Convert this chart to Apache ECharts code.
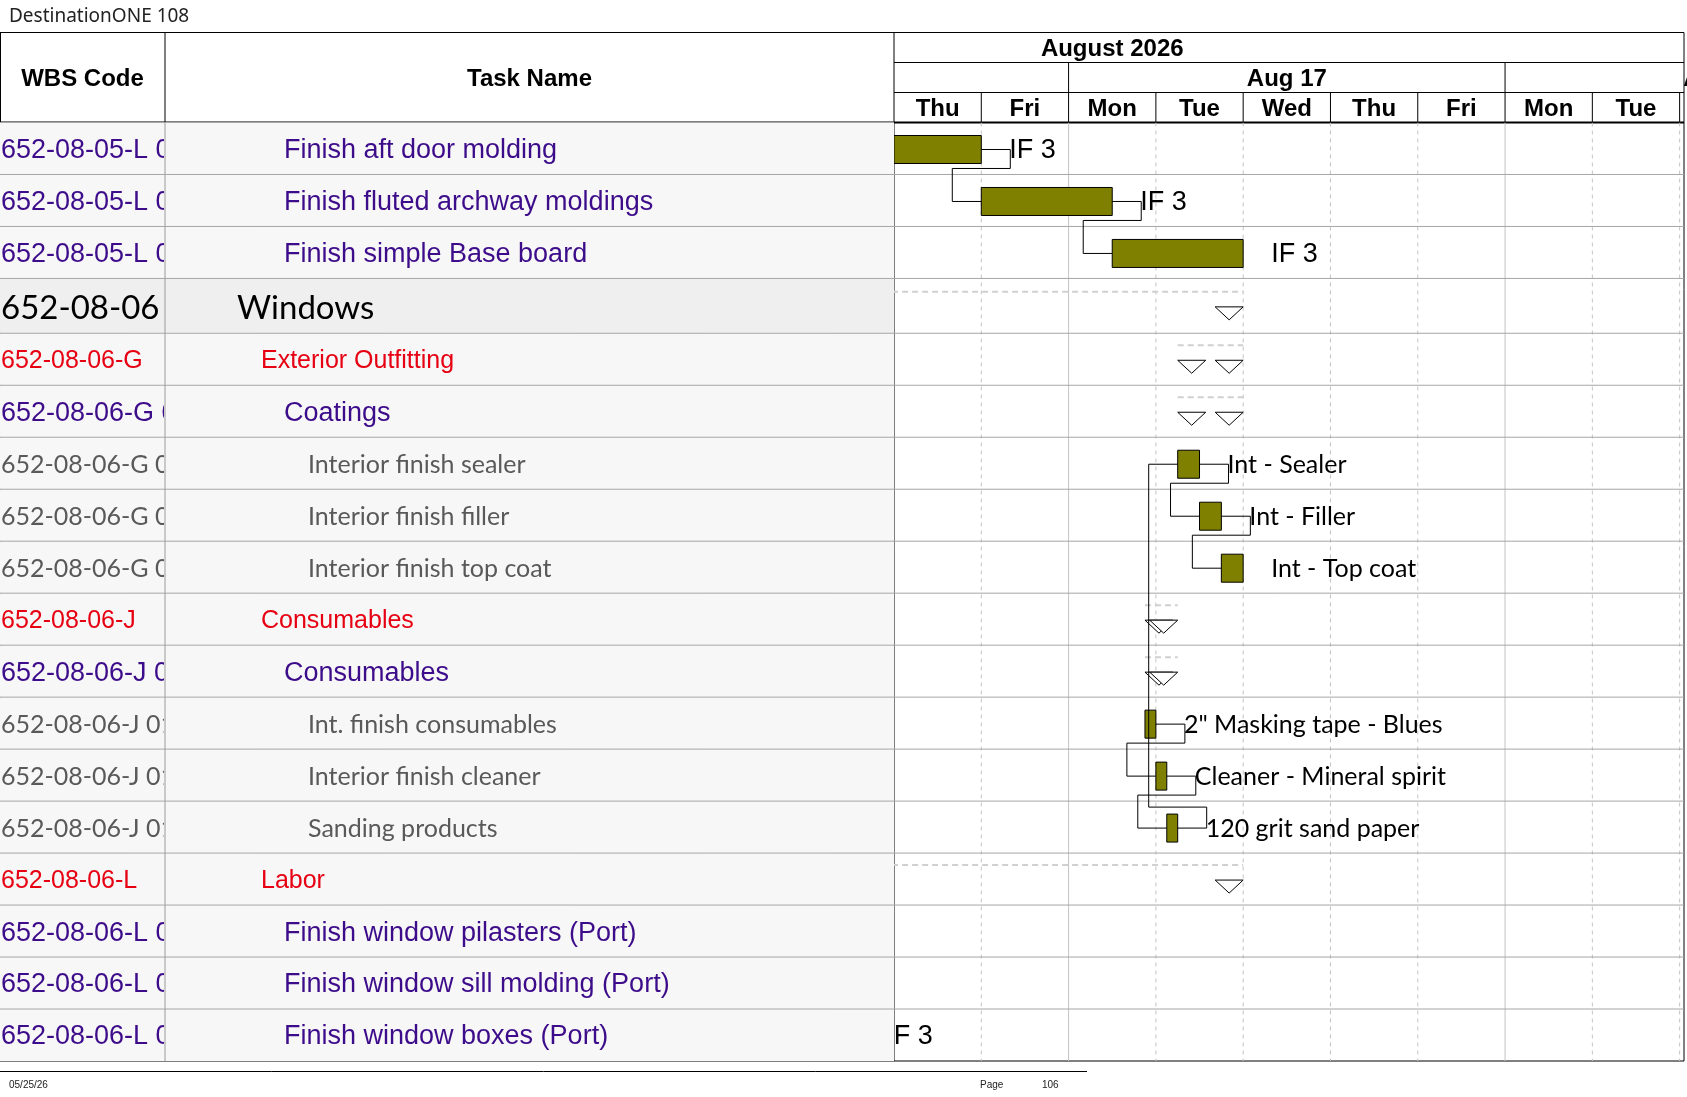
<!DOCTYPE html>
<html>
<head>
<meta charset="utf-8">
<title>DestinationONE 108</title>
<script src="https://cdn.jsdelivr.net/npm/echarts@6/dist/echarts.min.js"></script>
<style>
html, body { margin: 0; padding: 0; background: #fff; }
#chart { width: 1687px; height: 1097px; }
</style>
</head>
<body>
<div id="chart"></div>
<script>
// ---- table data ----
var columnTitles = ["WBS Code", "Task Name"];
var wbsCodes = [
    "652-08-05-L 01", "652-08-05-L 02", "652-08-05-L 03",
    "652-08-06",
    "652-08-06-G", "652-08-06-G 01", "652-08-06-G 01.01", "652-08-06-G 01.02", "652-08-06-G 01.03",
    "652-08-06-J", "652-08-06-J 01", "652-08-06-J 01.01", "652-08-06-J 01.02", "652-08-06-J 01.03",
    "652-08-06-L", "652-08-06-L 01", "652-08-06-L 02", "652-08-06-L 03"
];
var taskNames = [
    "Finish aft door molding", "Finish fluted archway moldings", "Finish simple Base board",
    "Windows",
    "Exterior Outfitting", "Coatings", "Interior finish sealer", "Interior finish filler", "Interior finish top coat",
    "Consumables", "Consumables", "Int. finish consumables", "Interior finish cleaner", "Sanding products",
    "Labor", "Finish window pilasters (Port)", "Finish window sill molding (Port)", "Finish window boxes (Port)"
];
var outlineLevels = [3, 3, 3, 1, 2, 3, 4, 4, 4, 2, 3, 4, 4, 4, 2, 3, 3, 3];

// ---- schedule, in working days from Thu Aug 13 ----
var taskStart  = [0, 1, 2.5, -3, 3.25, 3.25, 3.25, 3.5, 3.75, 2.875, 2.875, 2.875, 3.0, 3.125, -3, null, null, -1.5];
var taskFinish = [1, 2.5, 4, 4, 4, 4, 3.5, 3.75, 4, 3.25, 3.25, 3.0, 3.125, 3.25, 4, null, null, -0.41];
var isSummary  = [false, false, false, true, true, true, false, false, false, true, true, false, false, false, true, false, false, false];
var barLabels = [
    "IF 3", "IF 3", "IF 3", "", "", "",
    "Int - Sealer", "Int - Filler", "Int - Top coat", "", "",
    "2\" Masking tape - Blues", "Cleaner - Mineral spirit", "120 grit sand paper",
    "", "", "", "IF 3"
];
var predecessors = [null, 0, 1, null, null, null, 13, 6, 7, null, null, null, 11, 12, null, null, null, null];

// ---- timescale ----
var monthName = "August 2026";
var weekNames = ["Aug 10", "Aug 17", "Aug 24"];
var weekStarts = [-3, 2, 7];
var dayNames = ["Thu", "Fri", "Mon", "Tue", "Wed", "Thu", "Fri", "Mon", "Tue", "Wed"];

// ---- layout ----
var L = {
    top: 32.5, headH: 90, bodyTop: 122.5, bodyH: 938.5,
    tableW: 894, wbsW: 165, ganttW: 790, daysShown: 9.05, monthAt: 2.5,
    textDy: 2
};
var levelStyle = {
    1: { family: "Lato", size: 33, color: "#000000", indent: 237, bg: "#efefef", rowUnits: 1.055 },
    2: { family: "Liberation Sans", size: 25, color: "#e60012", indent: 261, bg: "#f7f7f7", rowUnits: 1 },
    3: { family: "Liberation Sans", size: 27, color: "#3d0c8a", indent: 284, bg: "#f7f7f7", rowUnits: 1 },
    4: { family: "Lato", size: 25, color: "#595959", indent: 308, bg: "#f7f7f7", rowUnits: 1 }
};
var barLabelStyle = {
    3: { family: "Liberation Sans", size: 27 },
    4: { family: "Lato", size: 25 }
};
var headFont = { fontFamily: "Liberation Sans", fontWeight: "bold", fontSize: 24, fill: "#000" };

var rowIndex = taskNames.map(function (n, i) { return i; });
// row extents in "row units" along the inverted y axis
var rowTops = [];
var acc = 0;
rowIndex.forEach(function (i) { rowTops.push(acc); acc += levelStyle[outlineLevels[i]].rowUnits; });
var totalUnits = acc;
function rowTop(i) { return rowTops[i]; }
function rowBottom(i) { return rowTops[i] + levelStyle[outlineLevels[i]].rowUnits; }
function rowMid(i) { return (rowTop(i) + rowBottom(i)) / 2; }

function hline(x1, x2, y, color, w, dash) {
    return { type: "line", shape: { x1: x1, y1: y, x2: x2, y2: y },
        style: { stroke: color, lineWidth: w || 1, lineDash: dash || null } };
}
function vline(x, y1, y2, color, w, dash) {
    return { type: "line", shape: { x1: x, y1: y1, x2: x, y2: y2 },
        style: { stroke: color, lineWidth: w || 1, lineDash: dash || null } };
}

function renderTableHead(params, api) {
    var col = api.value(0);
    var cs = params.coordSys;
    var edges = [0, L.wbsW, L.tableW];
    var x0 = api.coord([edges[col], 0])[0];
    var x1 = api.coord([edges[col + 1], 0])[0];
    var kids = [{ type: "text", style: Object.assign({ text: columnTitles[col], x: (x0 + x1) / 2,
        y: cs.y + cs.height / 2 + L.textDy, align: "center", verticalAlign: "middle" }, headFont) }];
    if (col > 0) kids.push(vline(x0, cs.y, cs.y + cs.height, "#000"));
    return { type: "group", children: kids };
}

function renderTableRow(params, api) {
    var row = api.value(0);
    var st = levelStyle[outlineLevels[row]];
    var top = api.coord([0, api.value(1)])[1];
    var bot = api.coord([0, api.value(2)])[1];
    var cy = (top + bot) / 2 + L.textDy;
    var x0 = api.coord([0, api.value(1)])[0];
    var xDiv = api.coord([L.wbsW, 0])[0];
    var xEnd = api.coord([L.tableW, 0])[0];
    var font = { fontFamily: st.family, fontSize: st.size, fill: st.color, verticalAlign: "middle" };
    var kids = [
        { type: "rect", z2: 0, shape: { x: x0, y: top, width: xEnd - x0, height: bot - top }, style: { fill: st.bg } },
        Object.assign(hline(x0, xEnd, top, "#a6a6a6"), { z2: 5 }),
        Object.assign(vline(xDiv, top, bot, "#9a9a9a"), { z2: 5 }),
        { type: "text", z2: 10, style: Object.assign({ text: wbsCodes[row], x: x0 + 1, y: cy }, font),
            clipPath: { type: "rect", shape: { x: x0, y: top, width: xDiv - x0 - 1, height: bot - top } } },
        { type: "text", z2: 10, style: Object.assign({ text: taskNames[row], x: api.coord([st.indent, 0])[0], y: cy }, font) }
    ];
    return { type: "group", children: kids };
}

function renderMonth(params, api) {
    var cs = params.coordSys;
    var p = api.coord([api.value(0), 0.5]);
    return { type: "group", children: [
        { type: "text", style: Object.assign({ text: monthName, x: p[0], y: p[1] + L.textDy, align: "center", verticalAlign: "middle" }, headFont) },
        hline(cs.x, cs.x + cs.width, api.coord([0, 1])[1], "#000"),
        hline(cs.x, cs.x + cs.width, api.coord([0, 2])[1], "#000")
    ] };
}

function renderWeek(params, api) {
    var cs = params.coordSys;
    var i = params.dataIndex;
    var s = api.value(0);
    var y1 = api.coord([0, 1])[1], y2 = api.coord([0, 2])[1];
    var kids = [];
    if (s > 0 && s < L.daysShown) kids.push(vline(api.coord([s, 1])[0], y1, y2, "#000"));
    kids.push({ type: "text", style: Object.assign({ text: weekNames[i], x: api.coord([s + 2.5, 1.5])[0],
        y: (y1 + y2) / 2 + L.textDy, align: "center", verticalAlign: "middle" }, headFont),
        clipPath: { type: "rect", shape: { x: cs.x, y: y1, width: 2000, height: y2 - y1 } } });
    return { type: "group", children: kids };
}

function renderDay(params, api) {
    var d = api.value(0);
    var y1 = api.coord([0, 2])[1], y2 = api.coord([0, 3])[1];
    var kids = [{ type: "text", style: Object.assign({ text: dayNames[d], x: api.coord([d + 0.5, 2.5])[0],
        y: (y1 + y2) / 2 + L.textDy, align: "center", verticalAlign: "middle" }, headFont) }];
    if (d > 0) kids.push(vline(api.coord([d, 2])[0], y1, y2, "#000"));
    return { type: "group", children: kids };
}

function renderDayLine(params, api) {
    var cs = params.coordSys;
    var d = api.value(0);
    var x = api.coord([d, 0])[0];
    var isWeek = weekStarts.indexOf(d) >= 0;
    return vline(x, cs.y, cs.y + cs.height, "#c4c4c4", 1, isWeek ? null : [4, 4]);
}

function renderRowLine(params, api) {
    var cs = params.coordSys;
    var y = api.coord([0, api.value(1)])[1];
    return hline(cs.x, cs.x + cs.width, y, "#a6a6a6");
}

function triangle(x, y) {
    return { type: "polygon", shape: { points: [[x, y], [x + 28, y], [x + 14, y + 13]] },
        style: { fill: "#fff", stroke: "#000", lineWidth: 1 } };
}

function renderTask(params, api) {
    var row = api.value(3);
    var s = api.coord([api.value(0), api.value(1)]);
    var e = api.coord([api.value(2), api.value(1)]);
    var cy = s[1] + 1;
    var kids = [];
    if (isSummary[row]) {
        kids.push(hline(s[0], e[0], cy - 15, "#d0d0d0", 2, [6, 4]));
        kids.push(triangle(s[0], cy));
        kids.push(triangle(e[0] - 28, cy));
    } else {
        kids.push({ type: "rect", shape: { x: s[0], y: cy - 14, width: e[0] - s[0], height: 28 },
            style: { fill: "#808000", stroke: "#000", lineWidth: 1 } });
        var ls = barLabelStyle[outlineLevels[row]];
        if (barLabels[row]) {
            kids.push({ type: "text", style: { text: barLabels[row], x: e[0] + 28, y: cy + L.textDy - 1, fill: "#000",
                fontFamily: ls.family, fontSize: ls.size, verticalAlign: "middle" } });
        }
    }
    return { type: "group", children: kids };
}

function renderLink(params, api) {
    var pRow = api.value(4), sRow = api.value(5);
    var pe = api.coord([api.value(0), api.value(1)]);
    var ss = api.coord([api.value(2), api.value(3)]);
    pe[1] += 1; ss[1] += 1;
    var down = sRow > pRow;
    var x1 = pe[0] + 29;
    var yTurn = down ? api.coord([0, rowBottom(pRow)])[1] - 6 : api.coord([0, rowTop(pRow)])[1] + 6;
    var x2 = ss[0] - 29;
    return { type: "polyline",
        shape: { points: [[pe[0], pe[1]], [x1, pe[1]], [x1, yTurn], [x2, yTurn], [x2, ss[1]], [ss[0], ss[1]]] },
        style: { stroke: "#000", lineWidth: 1, fill: null } };
}

var tableData = rowIndex.map(function (i) { return [i, rowTop(i), rowBottom(i)]; });
var taskData = [];
rowIndex.forEach(function (i) {
    if (taskStart[i] !== null) taskData.push([taskStart[i], rowMid(i), taskFinish[i], i]);
});
var linkData = [];
rowIndex.forEach(function (i) {
    var p = predecessors[i];
    if (p !== null) linkData.push([taskFinish[p], rowMid(p), taskStart[i], rowMid(i), p, i]);
});
var dayBoundaries = [];
for (var d = 1; d < L.daysShown; d++) dayBoundaries.push(d);

var gL = L.tableW, gR = L.tableW + L.ganttW, yB = L.bodyTop + L.bodyH;
var footFont = "'Liberation Sans Narrow', 'Liberation Sans', sans-serif";

var chart = echarts.init(document.getElementById("chart"));
var option = {
    backgroundColor: "#fff",
    animation: false,
    title: {
        text: "DestinationONE 108", left: 9, top: 7, padding: 0,
        textStyle: { fontFamily: "Noto Sans", fontSize: 19, fontWeight: "normal", color: "#222" }
    },
    grid: [
        { left: 0, top: L.top, width: L.tableW, height: L.headH, outerBoundsMode: "none" },
        { left: 0, top: L.bodyTop, width: L.tableW, height: L.bodyH, outerBoundsMode: "none" },
        { left: gL, top: L.top, width: L.ganttW, height: L.headH, outerBoundsMode: "none" },
        { left: gL, top: L.bodyTop, width: L.ganttW, height: L.bodyH, outerBoundsMode: "none" }
    ],
    xAxis: [
        { type: "value", gridIndex: 0, min: 0, max: L.tableW, show: false },
        { type: "value", gridIndex: 1, min: 0, max: L.tableW, show: false },
        { type: "value", gridIndex: 2, min: 0, max: L.daysShown, show: false },
        { type: "value", gridIndex: 3, min: 0, max: L.daysShown, show: false }
    ],
    yAxis: [
        { type: "value", gridIndex: 0, min: 0, max: 1, show: false },
        { type: "value", gridIndex: 1, min: 0, max: totalUnits, inverse: true, show: false },
        { type: "value", gridIndex: 2, min: 0, max: 3, inverse: true, show: false },
        { type: "value", gridIndex: 3, min: 0, max: totalUnits, inverse: true, show: false }
    ],
    series: [
        { type: "custom", name: "tableHead", xAxisIndex: 0, yAxisIndex: 0, data: [[0], [1]],
            renderItem: renderTableHead, silent: true },
        { type: "custom", name: "tableRows", xAxisIndex: 1, yAxisIndex: 1, data: tableData,
            encode: { x: 0, y: [1, 2] }, renderItem: renderTableRow, silent: true },
        { type: "custom", name: "month", xAxisIndex: 2, yAxisIndex: 2, data: [[L.monthAt]],
            renderItem: renderMonth, silent: true },
        { type: "custom", name: "weeks", xAxisIndex: 2, yAxisIndex: 2, data: weekStarts.map(function (s) { return [s]; }),
            renderItem: renderWeek, silent: true },
        { type: "custom", name: "days", xAxisIndex: 2, yAxisIndex: 2, data: dayNames.map(function (n, i) { return [i]; }),
            renderItem: renderDay, silent: true },
        { type: "custom", name: "dayLines", xAxisIndex: 3, yAxisIndex: 3, data: dayBoundaries.map(function (b) { return [b]; }),
            renderItem: renderDayLine, silent: true, z: 1 },
        { type: "custom", name: "rowLines", xAxisIndex: 3, yAxisIndex: 3, data: rowIndex.slice(1).map(function (i) { return [0, rowTop(i)]; }),
            encode: { x: 0, y: 1 }, renderItem: renderRowLine, silent: true, z: 1 },
        { type: "custom", name: "tasks", xAxisIndex: 3, yAxisIndex: 3, data: taskData,
            encode: { x: [0, 2], y: 1 }, renderItem: renderTask, clip: true, silent: true, z: 3 },
        { type: "custom", name: "links", xAxisIndex: 3, yAxisIndex: 3, data: linkData,
            encode: { x: [0, 2], y: [1, 3] }, renderItem: renderLink, clip: true, silent: true, z: 4 }
    ],
    graphic: [
        { type: "group", z: 100, silent: true, children: [
            hline(0, gR, L.top, "#000"),
            hline(0, gR, L.bodyTop, "#000", 2),
            hline(0, gR, yB, "#000"),
            vline(0.5, L.top, yB, "#000"),
            vline(gL, L.top, yB, "#000"),
            vline(gR, L.top, yB, "#000"),
            hline(0, 1087, 1071.5, "#000"),
            { type: "text", style: { text: "05/25/26", x: 9, y: 1085, fontFamily: footFont, fontSize: 10, fill: "#222", verticalAlign: "middle" } },
            { type: "text", style: { text: "Page", x: 980, y: 1085, fontFamily: footFont, fontSize: 10, fill: "#222", verticalAlign: "middle" } },
            { type: "text", style: { text: "106", x: 1042, y: 1085, fontFamily: footFont, fontSize: 10, fill: "#222", verticalAlign: "middle" } }
        ] }
    ]
};
chart.setOption(option);
</script>
</body>
</html>
